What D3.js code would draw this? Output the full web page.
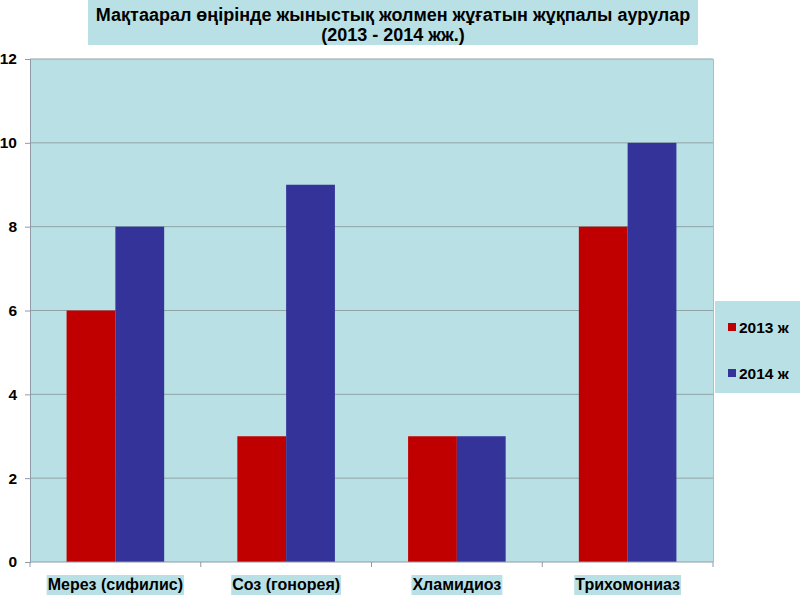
<!DOCTYPE html>
<html>
<head>
<meta charset="utf-8">
<script src="https://cdn.jsdelivr.net/npm/d3@7"></script>
<style>
  body { margin: 0; background: #fff; }
  svg { font-family: "Liberation Sans", Arial, sans-serif; }
</style>
</head>
<body>
<svg id="chart" width="800" height="595"></svg>
<script>
// data
var categories = ["Мерез (сифилис)", "Соз (гонорея)", "Хламидиоз", "Трихомониаз"];
var seriesNames = ["2013 ж", "2014 ж"];
var values2013 = [6, 3, 3, 8];
var values2014 = [8, 9, 3, 10];
var yTicks = [0, 2, 4, 6, 8, 10, 12];
var titleLines = ["Мақтаарал өңірінде жыныстық жолмен жұғатын жұқпалы аурулар", "(2013 - 2014 жж.)"];

var bg = "#b9e0e4";
var colors = ["#c00000", "#333399"];

var svg = d3.select("#chart");
var dim = {l: 30, r: 713, t: 59, b: 562};

// title box
svg.append("rect")
  .attr("x", 88).attr("y", 0)
  .attr("width", 610).attr("height", 45)
  .attr("fill", bg);
svg.selectAll(".title")
  .data(titleLines)
  .enter().append("text")
  .attr("class", "title")
  .attr("x", 393)
  .attr("y", function(d, i) { return 21 + i * 20; })
  .attr("text-anchor", "middle")
  .attr("font-size", "18px")
  .attr("font-weight", "bold")
  .text(function(d) { return d; });

// plot area
svg.append("rect")
  .attr("x", dim.l).attr("y", dim.t)
  .attr("width", dim.r - dim.l).attr("height", dim.b - dim.t)
  .attr("fill", bg);

var x0 = d3.scaleBand()
  .domain(categories)
  .range([dim.l, dim.r]);

var x1 = d3.scaleBand()
  .domain(seriesNames)
  .range([0, x0.bandwidth()])
  .paddingOuter(0.75)
  .paddingInner(0);

var y = d3.scaleLinear()
  .domain([0, 12])
  .range([dim.b, dim.t]);

// gridlines
svg.selectAll(".grid")
  .data(yTicks.filter(function(d) { return d > 0; }))
  .enter().append("line")
  .attr("x1", dim.l).attr("x2", dim.r)
  .attr("y1", function(d) { return y(d); })
  .attr("y2", function(d) { return y(d); })
  .attr("stroke", "#8fa5a8")
  .attr("stroke-width", 1);

// right edge
svg.append("line")
  .attr("x1", dim.r + 0.5).attr("x2", dim.r + 0.5)
  .attr("y1", dim.t).attr("y2", dim.b)
  .attr("stroke", "#a9bfc2");

// bars
var rows = categories.map(function(c, i) {
  return {cat: c, vals: [values2013[i], values2014[i]]};
});
var groups = svg.selectAll(".grp")
  .data(rows)
  .enter().append("g")
  .attr("class", "grp")
  .attr("transform", function(d) { return "translate(" + x0(d.cat) + ",0)"; });

groups.selectAll("rect")
  .data(function(d) { return d.vals.map(function(v, j) { return {s: seriesNames[j], v: v, j: j}; }); })
  .enter().append("rect")
  .attr("x", function(d) { return x1(d.s); })
  .attr("y", function(d) { return y(d.v); })
  .attr("width", x1.bandwidth())
  .attr("height", function(d) { return dim.b - y(d.v); })
  .attr("fill", function(d) { return colors[d.j]; });

// y axis
var yAxis = svg.append("g")
  .attr("transform", "translate(" + dim.l + ",0)")
  .call(d3.axisLeft(y).tickValues(yTicks).tickSize(5).tickPadding(8));
yAxis.select(".domain").attr("stroke", "#8e9aa8");
yAxis.selectAll(".tick line").attr("stroke", "#8e9aa8");
yAxis.selectAll("text")
  .attr("font-size", "15.5px")
  .attr("font-weight", "bold")
  .attr("fill", "#000")
  .attr("font-family", "Liberation Sans, Arial, sans-serif");

// x axis
var xAxis = svg.append("g")
  .attr("transform", "translate(0," + dim.b + ")");
xAxis.append("line")
  .attr("x1", dim.l).attr("x2", dim.r)
  .attr("stroke", "#8e9aa8");
xAxis.selectAll(".xt")
  .data(d3.range(categories.length + 1))
  .enter().append("line")
  .attr("x1", function(i) { return dim.l + i * x0.step(); })
  .attr("x2", function(i) { return dim.l + i * x0.step(); })
  .attr("y1", 0).attr("y2", 5)
  .attr("stroke", "#8e9aa8");

var labels = xAxis.selectAll(".xl")
  .data(categories)
  .enter().append("g")
  .attr("class", "xl");
labels.append("text")
  .attr("x", function(d) { return x0(d) + x0.bandwidth() / 2; })
  .attr("y", 28)
  .attr("text-anchor", "middle")
  .attr("font-size", "16px")
  .attr("font-weight", "bold")
  .text(function(d) { return d; });
labels.each(function() {
  var g = d3.select(this);
  var b = g.select("text").node().getBBox();
  g.insert("rect", "text")
    .attr("x", b.x - 1).attr("y", 13)
    .attr("width", b.width + 2).attr("height", 21)
    .attr("fill", bg);
});

// legend
var legend = svg.append("g").attr("transform", "translate(715,301)");
legend.append("rect")
  .attr("width", 90).attr("height", 92)
  .attr("fill", bg);
var li = legend.selectAll(".li")
  .data(seriesNames)
  .enter().append("g")
  .attr("transform", function(d, i) { return "translate(0," + (i * 46) + ")"; });
li.append("rect")
  .attr("x", 13).attr("y", 22)
  .attr("width", 8).attr("height", 8)
  .attr("fill", function(d, i) { return colors[i]; });
li.append("text")
  .attr("x", 24).attr("y", 32)
  .attr("font-size", "15.5px")
  .attr("font-weight", "bold")
  .text(function(d) { return d; });
</script>
</body>
</html>
